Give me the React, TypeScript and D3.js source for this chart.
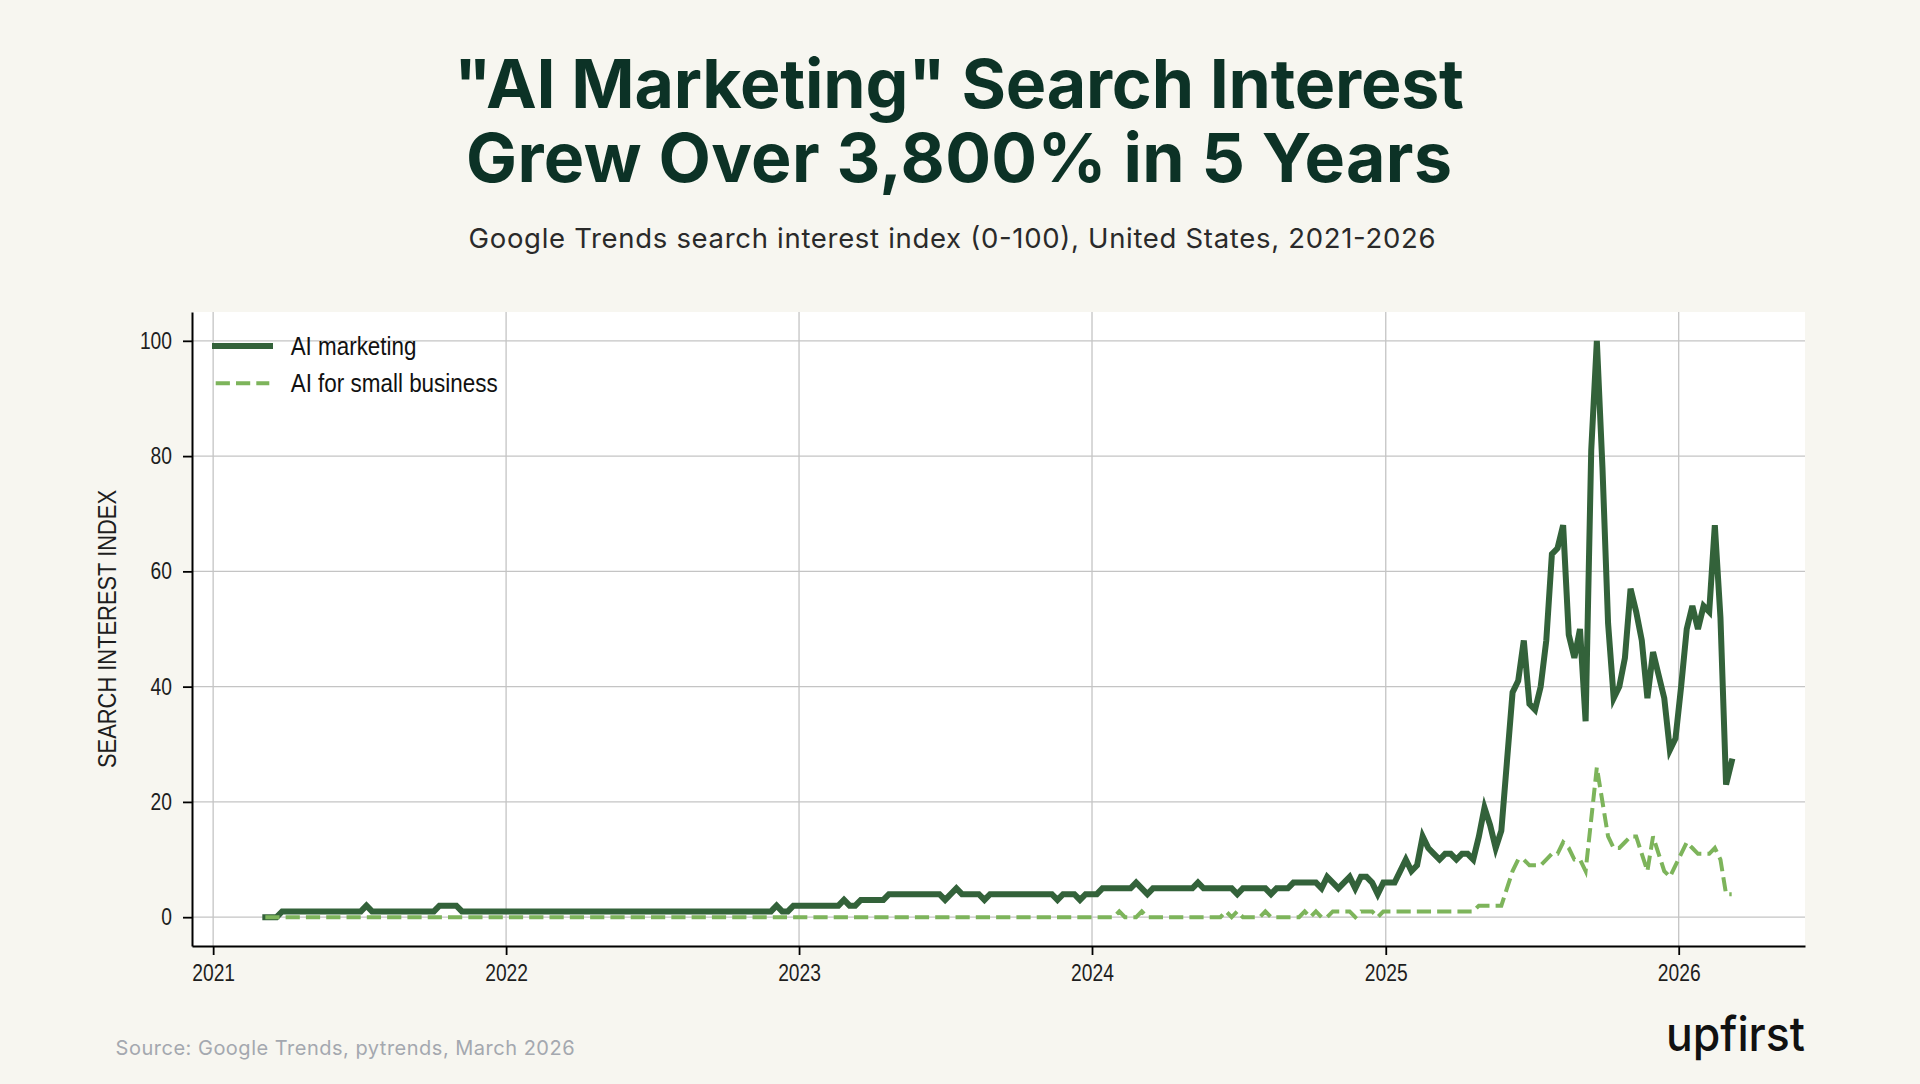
import React, { useEffect, useRef } from 'react';
import * as d3 from 'd3';

// Weekly Google Trends index, first week starting Sunday 2021-03-07
const firstWeek = new Date(Date.UTC(2021, 2, 7));

const aiMarketing = [
  0, 0, 0, 1, 1, 1, 1, 1, 1, 1,
  1, 1, 1, 1, 1, 1, 1, 1, 2, 1,
  1, 1, 1, 1, 1, 1, 1, 1, 1, 1,
  1, 2, 2, 2, 2, 1, 1, 1, 1, 1,
  1, 1, 1, 1, 1, 1, 1, 1, 1, 1,
  1, 1, 1, 1, 1, 1, 1, 1, 1, 1,
  1, 1, 1, 1, 1, 1, 1, 1, 1, 1,
  1, 1, 1, 1, 1, 1, 1, 1, 1, 1,
  1, 1, 1, 1, 1, 1, 1, 1, 1, 1,
  1, 2, 1, 1, 2, 2, 2, 2, 2, 2,
  2, 2, 2, 3, 2, 2, 3, 3, 3, 3,
  3, 4, 4, 4, 4, 4, 4, 4, 4, 4,
  4, 3, 4, 5, 4, 4, 4, 4, 3, 4,
  4, 4, 4, 4, 4, 4, 4, 4, 4, 4,
  4, 3, 4, 4, 4, 3, 4, 4, 4, 5,
  5, 5, 5, 5, 5, 6, 5, 4, 5, 5,
  5, 5, 5, 5, 5, 5, 6, 5, 5, 5,
  5, 5, 5, 4, 5, 5, 5, 5, 5, 4,
  5, 5, 5, 6, 6, 6, 6, 6, 5, 7,
  6, 5, 6, 7, 5, 7, 7, 6, 4, 6,
  6, 6, 8, 10, 8, 9, 14, 12, 11, 10,
  11, 11, 10, 11, 11, 10, 14, 19, 16, 12,
  15, 27, 39, 41, 48, 37, 36, 40, 48, 63,
  64, 68, 49, 45, 50, 34, 81, 100, 78, 51,
  38, 40, 45, 57, 53, 48, 38, 46, 42, 38,
  29, 31, 40, 50, 54, 50, 54, 53, 68, 52,
  23, 27,
];

const aiSmallBusiness = [
  0, 0, 0, 0, 0, 0, 0, 0, 0, 0,
  0, 0, 0, 0, 0, 0, 0, 0, 0, 0,
  0, 0, 0, 0, 0, 0, 0, 0, 0, 0,
  0, 0, 0, 0, 0, 0, 0, 0, 0, 0,
  0, 0, 0, 0, 0, 0, 0, 0, 0, 0,
  0, 0, 0, 0, 0, 0, 0, 0, 0, 0,
  0, 0, 0, 0, 0, 0, 0, 0, 0, 0,
  0, 0, 0, 0, 0, 0, 0, 0, 0, 0,
  0, 0, 0, 0, 0, 0, 0, 0, 0, 0,
  0, 0, 0, 0, 0, 0, 0, 0, 0, 0,
  0, 0, 0, 0, 0, 0, 0, 0, 0, 0,
  0, 0, 0, 0, 0, 0, 0, 0, 0, 0,
  0, 0, 0, 0, 0, 0, 0, 0, 0, 0,
  0, 0, 0, 0, 0, 0, 0, 0, 0, 0,
  0, 0, 0, 0, 0, 0, 0, 0, 0, 0,
  0, 0, 1, 0, 0, 0, 1, 0, 0, 0,
  0, 0, 0, 0, 0, 0, 0, 0, 0, 0,
  0, 1, 0, 1, 0, 0, 0, 0, 1, 0,
  0, 0, 0, 0, 0, 1, 0, 1, 0, 0,
  1, 1, 1, 1, 0, 1, 1, 1, 0, 1,
  1, 1, 1, 1, 1, 1, 1, 1, 1, 1,
  1, 1, 1, 1, 1, 1, 2, 2, 2, 2,
  2, 5, 8, 10, 10, 9, 9, 9, 10, 11,
  11, 13, 12, 10, 10, 8, 17, 26, 20, 14,
  12, 12, 13, 14, 14, 11, 8, 14, 11, 8,
  7, 9, 11, 13, 12, 11, 11, 11, 12, 10,
  4, 4,
];

const seriesLabels = ['AI marketing', 'AI for small business'];
const yearTicks = [2021, 2022, 2023, 2024, 2025, 2026];
const valueTicks = [0, 20, 40, 60, 80, 100];

const titleLines = ['"AI Marketing" Search Interest', 'Grew Over 3,800% in 5 Years'];
const subtitle = 'Google Trends search interest index (0-100), United States, 2021-2026';
const sourceNote = 'Source: Google Trends, pytrends, March 2026';

const WIDTH = 1920;
const HEIGHT = 1084;
const plot = { left: 192, right: 1805, top: 312, bottom: 946 };

const darkGreen = '#33623a';
const lightGreen = '#7db45b';
const chartFont = "'Liberation Sans Narrow', 'Liberation Sans', Arial, sans-serif";

const App = () => {
  const ref = useRef<SVGSVGElement>(null);

  useEffect(() => {
    const svg = d3.select(ref.current);
    svg.selectAll('*').remove();

    const weeks = aiMarketing.map((_, i) => d3.utcWeek.offset(firstWeek, i));
    const first = +weeks[0];
    const last = +weeks[weeks.length - 1];
    const pad = (last - first) * 0.05;

    // Set up the x and y scales (5% margin around the data)

    const x = d3
      .scaleUtc()
      .domain([new Date(first - pad), new Date(last + pad)])
      .range([plot.left, plot.right]);

    const y = d3.scaleLinear().domain([-5, 105]).range([plot.bottom, plot.top]);

    // Page and plot backgrounds

    svg.append('rect').attr('width', WIDTH).attr('height', HEIGHT).attr('fill', '#f7f6f0');
    svg
      .append('rect')
      .attr('x', plot.left)
      .attr('y', plot.top)
      .attr('width', plot.right - plot.left)
      .attr('height', plot.bottom - plot.top)
      .attr('fill', '#ffffff');

    // Titles

    svg
      .selectAll('text.title')
      .data(titleLines)
      .join('text')
      .attr('class', 'title')
      .attr('x', 959)
      .attr('y', (d, i) => 108 + i * 73.5)
      .attr('text-anchor', 'middle')
      .attr('font-family', 'Inter, sans-serif')
      .attr('font-weight', 700)
      .attr('font-size', 68)
      .attr('fill', '#0c3226')
      .attr('textLength', (d, i) => (i === 0 ? 1010 : 986))
      .attr('lengthAdjust', 'spacing')
      .text(d => d);

    svg
      .append('text')
      .attr('x', 952)
      .attr('y', 248)
      .attr('text-anchor', 'middle')
      .attr('font-family', 'Inter, sans-serif')
      .attr('font-size', 27.5)
      .attr('fill', '#2a2a2a')
      .attr('textLength', 967)
      .attr('lengthAdjust', 'spacing')
      .text(subtitle);

    // Grid lines

    const grid = svg.append('g').attr('stroke', '#c4c4c4').attr('stroke-width', 1.3);
    grid
      .selectAll('line.h')
      .data(valueTicks)
      .join('line')
      .attr('x1', plot.left)
      .attr('x2', plot.right)
      .attr('y1', d => y(d))
      .attr('y2', d => y(d));
    grid
      .selectAll('line.v')
      .data(yearTicks)
      .join('line')
      .attr('x1', d => x(new Date(Date.UTC(d, 0, 1))))
      .attr('x2', d => x(new Date(Date.UTC(d, 0, 1))))
      .attr('y1', plot.top)
      .attr('y2', plot.bottom);

    // Add the x-axis

    const xAxis = svg
      .append('g')
      .attr('transform', `translate(0,${plot.bottom})`)
      .call(
        d3
          .axisBottom(x)
          .tickValues(yearTicks.map(d => new Date(Date.UTC(d, 0, 1))))
          .tickFormat(d3.utcFormat('%Y') as any)
          .tickSize(9)
          .tickSizeOuter(0)
          .tickPadding(10)
      );

    // Add the y-axis

    const yAxis = svg
      .append('g')
      .attr('transform', `translate(${plot.left},0)`)
      .call(d3.axisLeft(y).tickValues(valueTicks).tickSize(9).tickSizeOuter(0).tickPadding(11));

    [xAxis, yAxis].forEach(axis => {
      axis.select('.domain').attr('stroke', '#000').attr('stroke-width', 2);
      axis.selectAll('.tick line').attr('stroke', '#000').attr('stroke-width', 1.8);
      axis
        .selectAll('.tick text')
        .attr('font-family', chartFont)
        .attr('font-size', 23)
        .attr('fill', '#1e1e1e')
        .attr('textLength', function () {
          return (this as SVGTextElement).textContent!.length * 10.7;
        })
        .attr('lengthAdjust', 'spacingAndGlyphs');
    });

    svg
      .append('text')
      .attr('transform', `translate(115.5,629) rotate(-90)`)
      .attr('text-anchor', 'middle')
      .attr('font-family', chartFont)
      .attr('font-size', 25)
      .attr('fill', '#1e1e1e')
      .attr('textLength', 278)
      .attr('lengthAdjust', 'spacingAndGlyphs')
      .text('SEARCH INTEREST INDEX');

    // Create the line generator

    const line = d3
      .line<number>()
      .x((d, i) => x(weeks[i]))
      .y(d => y(d));

    // Add the line paths

    svg
      .append('path')
      .datum(aiMarketing)
      .attr('fill', 'none')
      .attr('stroke', darkGreen)
      .attr('stroke-width', 6)
      .attr('stroke-linejoin', 'miter')
      .attr('stroke-linecap', 'square')
      .attr('d', line);

    svg
      .append('path')
      .datum(aiSmallBusiness)
      .attr('fill', 'none')
      .attr('stroke', lightGreen)
      .attr('stroke-width', 4)
      .attr('stroke-dasharray', '14.2 6.1')
      .attr('stroke-linejoin', 'miter')
      .attr('d', line);

    // Legend

    const legend = svg.append('g');
    const legendRows = seriesLabels.map((label, i) => ({ label, i }));
    legend
      .selectAll('line')
      .data(legendRows)
      .join('line')
      .attr('x1', d => (d.i === 0 ? 215 : 215.7))
      .attr('x2', d => (d.i === 0 ? 270 : 269.3))
      .attr('y1', d => 346 + d.i * 37.3)
      .attr('y2', d => 346 + d.i * 37.3)
      .attr('stroke', d => (d.i === 0 ? darkGreen : lightGreen))
      .attr('stroke-width', d => (d.i === 0 ? 6 : 4))
      .attr('stroke-linecap', d => (d.i === 0 ? 'square' : 'butt'))
      .attr('stroke-dasharray', d => (d.i === 0 ? null : '14.2 6.1'));
    legend
      .selectAll('text')
      .data(legendRows)
      .join('text')
      .attr('x', 290.7)
      .attr('y', d => 355 + d.i * 37)
      .attr('font-family', chartFont)
      .attr('font-size', 25)
      .attr('fill', '#111')
      .attr('textLength', d => (d.i === 0 ? 125.7 : 207))
      .attr('lengthAdjust', 'spacingAndGlyphs')
      .text(d => d.label);

    // Footer: source note and brand mark

    svg
      .append('text')
      .attr('x', 115.6)
      .attr('y', 1055)
      .attr('font-family', 'Inter, sans-serif')
      .attr('font-size', 20)
      .attr('fill', '#a4a8af')
      .attr('textLength', 459)
      .attr('lengthAdjust', 'spacing')
      .text(sourceNote);

    svg
      .append('text')
      .attr('x', 1805)
      .attr('y', 1051)
      .attr('text-anchor', 'end')
      .attr('font-family', 'Inter, sans-serif')
      .attr('font-weight', 500)
      .attr('font-size', 48)
      .attr('fill', '#111')
      .attr('textLength', 139)
      .attr('lengthAdjust', 'spacingAndGlyphs')
      .text('upfirst');
  }, []);

  return (
    <svg
      ref={ref}
      width={WIDTH}
      height={HEIGHT}
      style={{ position: 'absolute', left: 0, top: 0, display: 'block' }}
    />
  );
};

export default App;
